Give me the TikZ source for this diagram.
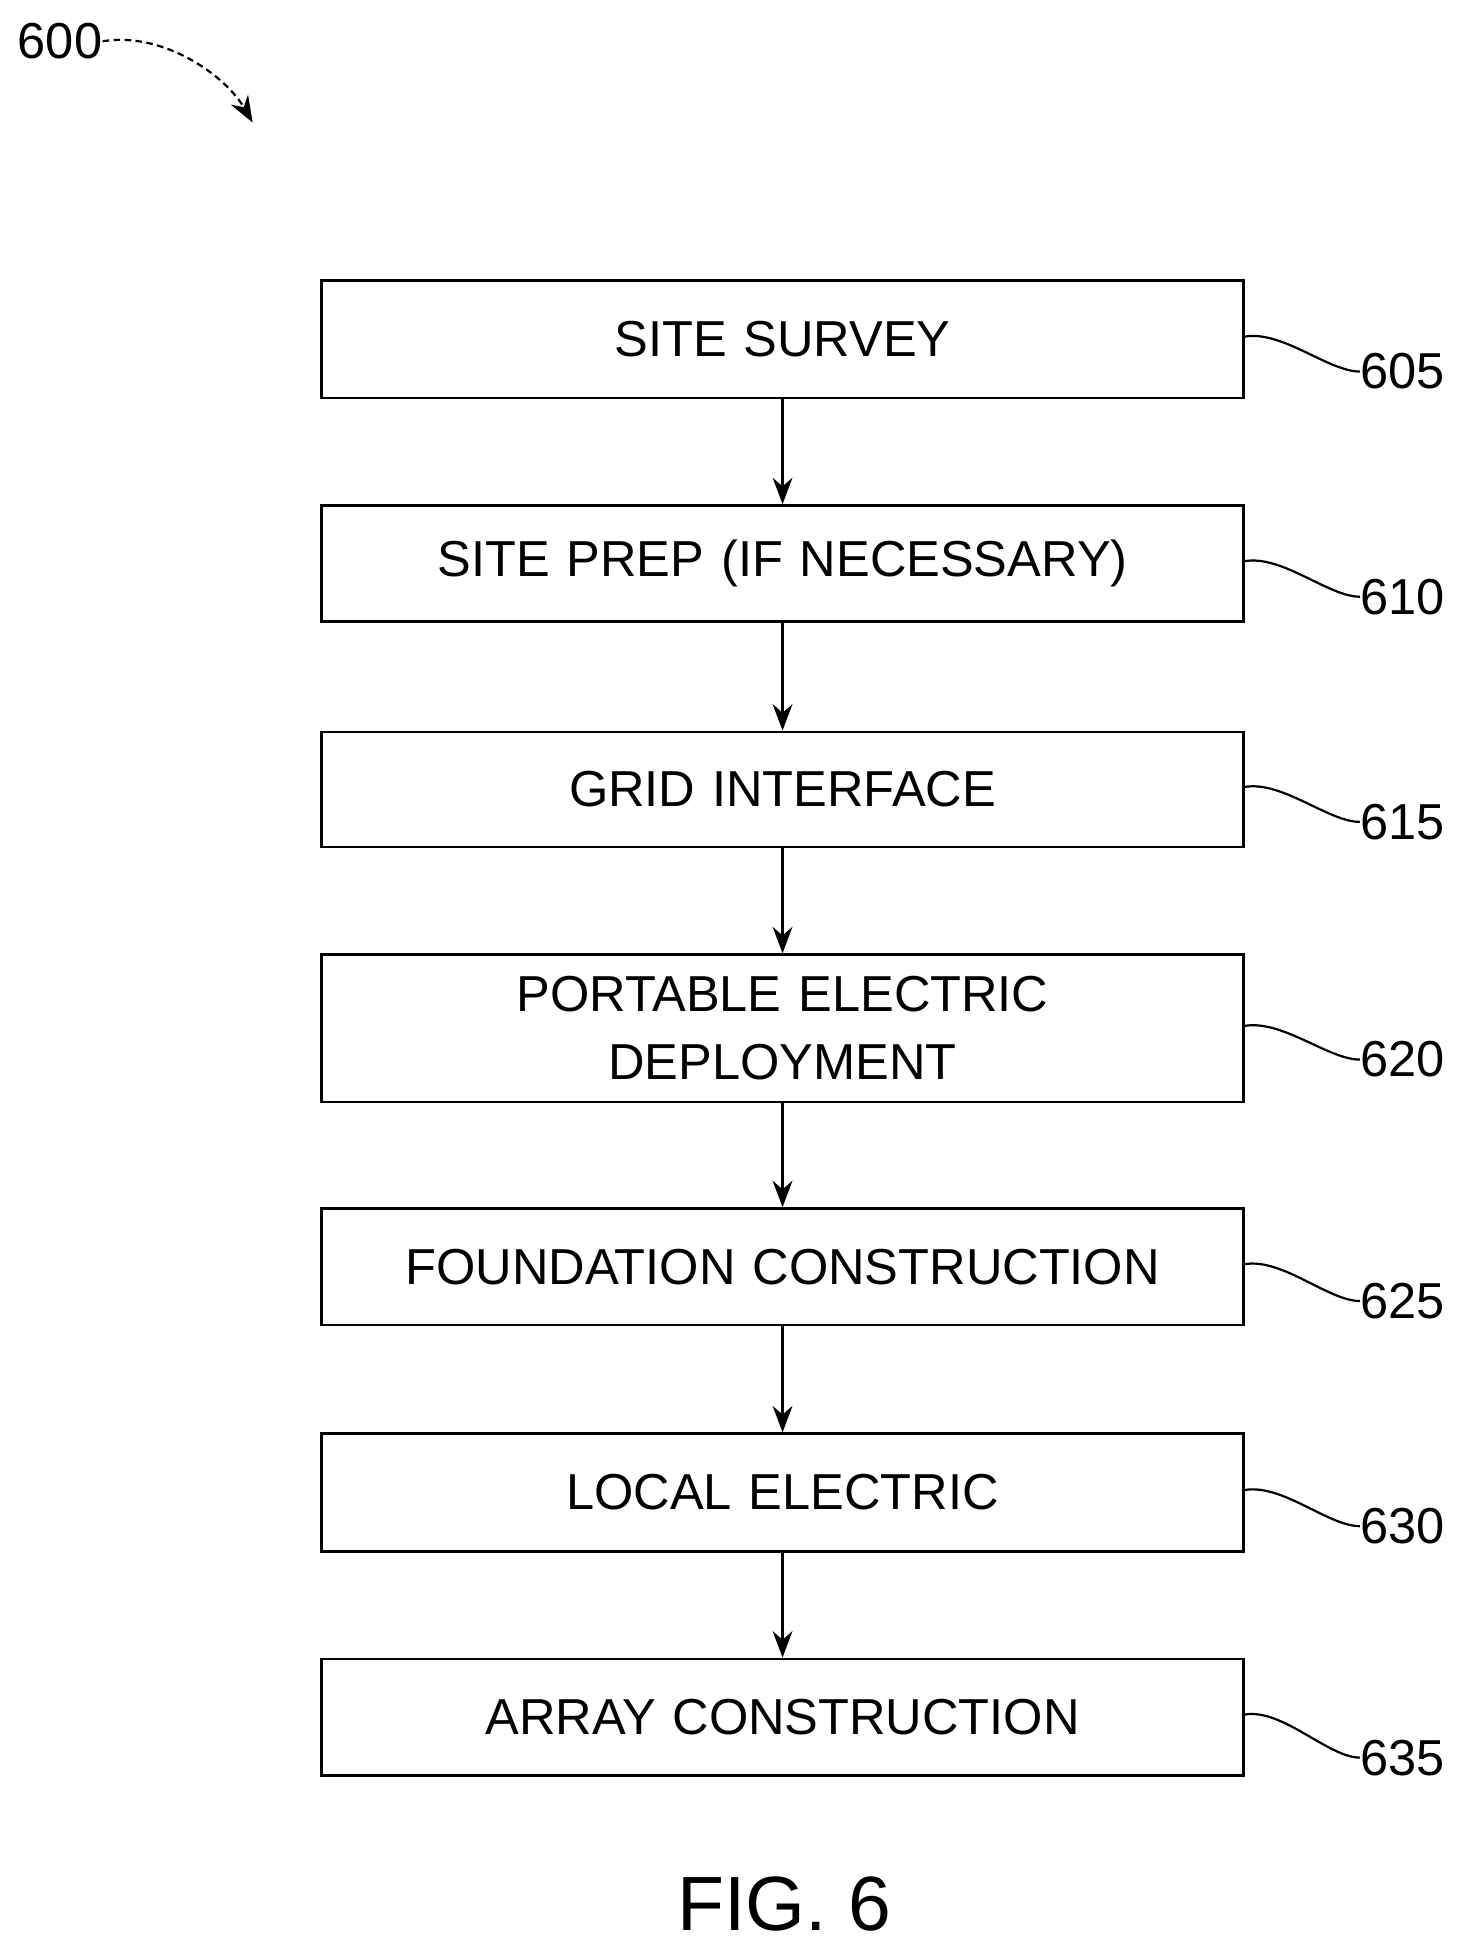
\documentclass[tikz,border=0pt]{standalone}
\usepackage{fontspec}
\setmainfont{Liberation Sans}
\usetikzlibrary{arrows.meta}
\begin{document}
\begin{tikzpicture}[x=0.02cm,y=-0.02cm,
 box/.style={draw,line width=1.2pt,minimum width=737*0.02cm,text width=700*0.02cm,align=center,anchor=north west,inner sep=0pt,font=\fontsize{23}{29}\selectfont},
 arr/.style={line width=1.2pt,-{Stealth[length=12pt,width=9pt]}},
 lbl/.style={font=\fontsize{23}{27}\selectfont,anchor=west,inner sep=0pt},
 lead/.style={line width=1pt}]
\useasboundingbox (0,0) rectangle (1166,1558);
\node[box,minimum height=94*0.02cm] (b605) at (256,223) {SITE SURVEY};
\node[box,minimum height=93*0.02cm] (b610) at (256,403) {SITE PREP (IF NECESSARY)};
\node[box,minimum height=92*0.02cm] (b615) at (256,584) {GRID INTERFACE};
\node[box,minimum height=118*0.02cm] (b620) at (256,762) {PORTABLE ELECTRIC\\[2pt] DEPLOYMENT};
\node[box,minimum height=93*0.02cm] (b625) at (256,965) {FOUNDATION CONSTRUCTION};
\node[box,minimum height=94*0.02cm] (b630) at (256,1145) {LOCAL ELECTRIC};
\node[box,minimum height=93*0.02cm] (b635) at (256,1325) {ARRAY CONSTRUCTION};
\foreach \a/\b in {605/610,610/615,615/620,620/625,625/630,630/635}
  \draw[arr] (b\a.south) -- (b\b.north);
\foreach \n/\y in {605/297,610/477,615/657,620/847,625/1040,630/1220,635/1405}{
  \node[lbl] (l\n) at (1087,\y) {\n};
  \draw[lead] (b\n.east) ++(0,-2) .. controls ++(30,-5) and ++(-25,0) .. (l\n.west);
}
\node[font=\fontsize{23}{27}\selectfont,inner sep=0pt] (l600) at (48,33) {600};
\coordinate (t600) at (202,98);
\draw[line width=1pt,densely dashed,-{Stealth[length=12pt,width=9pt]}] (l600.east) .. controls (130,25) and (180,60) .. (t600);
\node[font=\fontsize{35}{40}\selectfont,inner sep=0pt] (fig) at (627,1522) {FIG. 6};
\end{tikzpicture}
\end{document}
